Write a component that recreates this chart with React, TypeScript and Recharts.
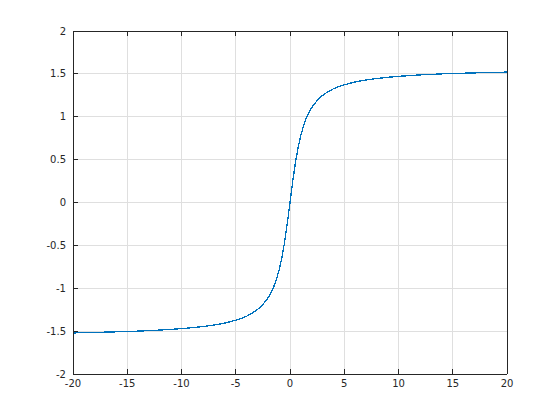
import { LineChart, Line, XAxis, YAxis, CartesianGrid, ReferenceLine } from "recharts";

const xValues = [
  -20, -18, -16, -14, -12, -10, -9, -8, -7, -6, -5, -4.5, -4, -3.5, -3, -2.5, -2, -1.75, -1.5,
  -1.25, -1, -0.75, -0.5, -0.25, 0, 0.25, 0.5, 0.75, 1, 1.25, 1.5, 1.75, 2, 2.5, 3, 3.5, 4, 4.5,
  5, 6, 7, 8, 9, 10, 12, 14, 16, 18, 20,
];
const yValues = [
  -1.521, -1.515, -1.508, -1.5, -1.488, -1.471, -1.46, -1.446, -1.429, -1.406, -1.373, -1.352,
  -1.326, -1.292, -1.249, -1.19, -1.107, -1.052, -0.983, -0.896, -0.785, -0.644, -0.464, -0.245,
  0, 0.245, 0.464, 0.644, 0.785, 0.896, 0.983, 1.052, 1.107, 1.19, 1.249, 1.292, 1.326, 1.352,
  1.373, 1.406, 1.429, 1.446, 1.46, 1.471, 1.488, 1.5, 1.508, 1.515, 1.521,
];
const xTicks = [-20, -15, -10, -5, 0, 5, 10, 15, 20];
const yTicks = [-2, -1.5, -1, -0.5, 0, 0.5, 1, 1.5, 2];

const data = xValues.map((x, i) => ({ x, y: yValues[i] }));

const axisColor = "#262626";
const font = "DejaVu Sans";
const MARGIN = 8;
const TICK_LEN = 5;

// ticks point inward (into the plot), labels sit outside
function BottomTick(props: any) {
  const { x, y, payload } = props;
  const axisY = y - MARGIN;
  return (
    <g>
      <line x1={x} x2={x} y1={axisY} y2={axisY - TICK_LEN} stroke={axisColor} />
      <text x={x} y={axisY + 13} textAnchor="middle" fontSize={10} fill={axisColor} fontFamily={font}>
        {payload.value}
      </text>
    </g>
  );
}

function TopTick(props: any) {
  const { x, y } = props;
  const axisY = y + MARGIN;
  return <line x1={x} x2={x} y1={axisY} y2={axisY + TICK_LEN} stroke={axisColor} />;
}

function LeftTick(props: any) {
  const { x, y, payload } = props;
  const axisX = x + MARGIN;
  return (
    <g>
      <line x1={axisX} x2={axisX + TICK_LEN} y1={y} y2={y} stroke={axisColor} />
      <text x={axisX - 7} y={y + 3.5} textAnchor="end" fontSize={10} fill={axisColor} fontFamily={font}>
        {payload.value}
      </text>
    </g>
  );
}

function RightTick(props: any) {
  const { x, y } = props;
  const axisX = x - MARGIN;
  return <line x1={axisX} x2={axisX - TICK_LEN} y1={y} y2={y} stroke={axisColor} />;
}

export default function App() {
  return (
    <div
      style={{
        position: "absolute",
        left: 0,
        top: 0,
        background: "#fff",
        shapeRendering: "crispEdges",
      }}
    >
      <LineChart
        width={560}
        height={420}
        data={data}
        margin={{ top: 30, right: 52, left: 0, bottom: 0 }}
      >
        <CartesianGrid xAxisId="bottom" yAxisId="left" stroke="#dfdfdf" strokeWidth={1} />
        <XAxis
          xAxisId="bottom"
          dataKey="x"
          type="number"
          domain={[-20, 20]}
          ticks={xTicks}
          height={46}
          stroke={axisColor}
          tickLine={false}
          tickSize={0}
          tickMargin={MARGIN}
          tick={<BottomTick />}
          interval={0}
        />
        <XAxis
          xAxisId="top"
          orientation="top"
          dataKey="x"
          type="number"
          domain={[-20, 20]}
          ticks={xTicks}
          height={1}
          stroke={axisColor}
          tickLine={false}
          tickSize={0}
          tickMargin={MARGIN}
          tick={<TopTick />}
          interval={0}
        />
        <YAxis
          yAxisId="left"
          type="number"
          domain={[-2, 2]}
          ticks={yTicks}
          width={73}
          stroke={axisColor}
          tickLine={false}
          tickSize={0}
          tickMargin={MARGIN}
          tick={<LeftTick />}
          interval={0}
        />
        <YAxis
          yAxisId="right"
          orientation="right"
          type="number"
          domain={[-2, 2]}
          ticks={yTicks}
          width={1}
          stroke={axisColor}
          tickLine={false}
          tickSize={0}
          tickMargin={MARGIN}
          tick={<RightTick />}
          interval={0}
        />
        <ReferenceLine xAxisId="bottom" yAxisId="left" y={2} stroke={axisColor} strokeWidth={1} />
        <ReferenceLine xAxisId="bottom" yAxisId="left" x={20} stroke={axisColor} strokeWidth={1} />
        <Line
          xAxisId="bottom"
          yAxisId="left"
          dataKey="y"
          type="linear"
          stroke="#0072BD"
          strokeWidth={1.3}
          dot={false}
          isAnimationActive={false}
        />
      </LineChart>
    </div>
  );
}
